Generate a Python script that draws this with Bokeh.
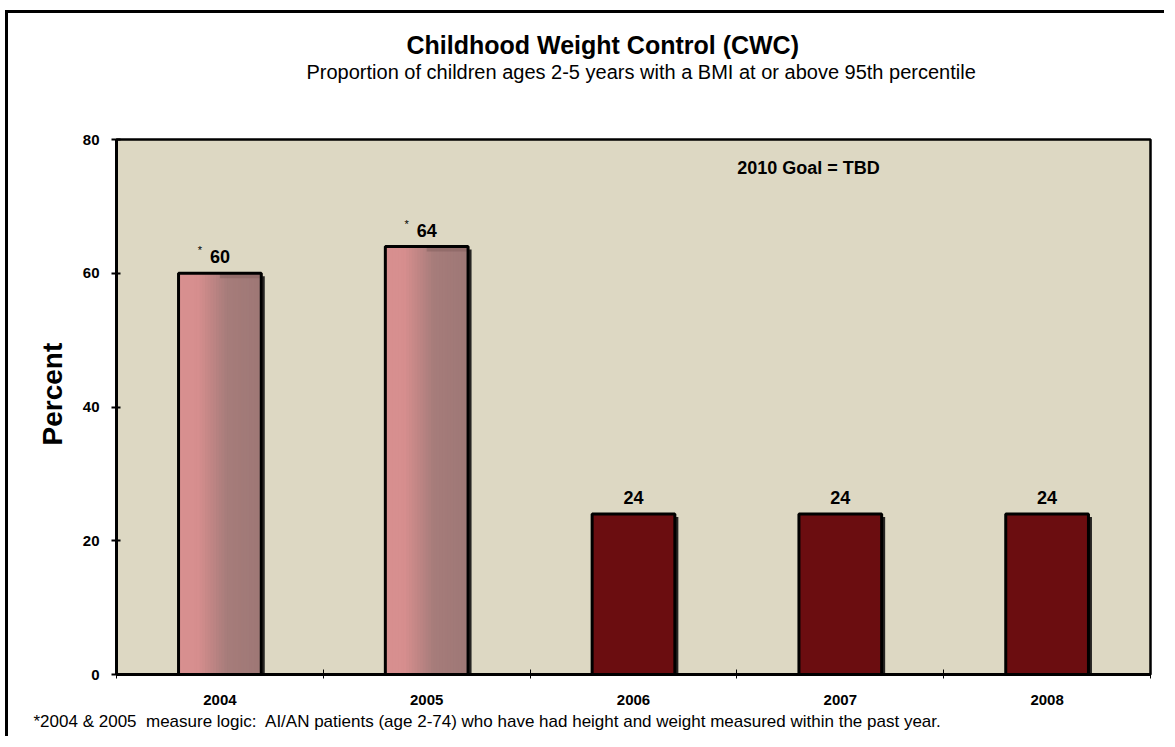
from bokeh.plotting import figure
from bokeh.models import ColumnDataSource, FixedTicker, Label, LabelSet, Range1d, Title
from bokeh.core.properties import value
from bokeh.embed import file_html
from bokeh.resources import INLINE

# ---------------- data ----------------
years = ["2004", "2005", "2006", "2007", "2008"]
percent = [60, 64, 24, 24, 24]
note_marks = ["*", "*", "", "", ""]
y_ticks = [0, 20, 40, 60, 80]
title_text = "Childhood Weight Control (CWC)"
subtitle_text = "Proportion of children ages 2-5 years with a BMI at or above 95th percentile"
goal_text = "2010 Goal = TBD"
footnote_text = ("*2004 & 2005\u00a0 measure logic:\u00a0 AI/AN patients (age 2-74) who have had "
                 "height and weight measured within the past year.")
y_label = "Percent"

# ---------------- layout helpers ----------------
FONT = "Liberation Sans"
W, H = 1159, 726
ORG_X, ORG_Y = 8, 13          # page position of canvas
FL, FT, FR, FB = 116, 139, 1150, 674   # frame edges in page px
N = len(years)
YMAX = 80
UPX = N / (FR - FL)           # data units per px (x)
UPY = YMAX / (FB - FT)        # data units per px (y)


def dx(px):
    return (px - FL) * UPX


def dy(py):
    return (FB - py) * UPY


p = figure(width=W, height=H, x_range=Range1d(0, N), y_range=Range1d(0, YMAX),
           output_backend="svg", toolbar_location=None,
           min_border_left=FL - ORG_X, min_border_top=FT - ORG_Y,
           min_border_right=ORG_X + W - FR, min_border_bottom=ORG_Y + H - FB,
           background_fill_color="#ddd8c3", border_fill_color="white")
p.styles = {"border-left": "3px solid black", "border-top": "3px solid black",
            "margin-left": "5px", "margin-top": "10px"}
p.grid.visible = False
p.outline_line_color = "black"
p.outline_line_width = 2.5

centers = [i + 0.5 for i in range(N)]
bar_w = 0.4

# shadow
shadow_src = ColumnDataSource(dict(x=[c + 3.5 * UPX for c in centers],
                                   top=[v - 3 * UPY for v in percent]))
p.vbar(x="x", top="top", width=bar_w, bottom=0, source=shadow_src,
       fill_color="#111111", fill_alpha=0.9, line_color=None)

# gradient strips for the starred (old-logic) bars
stops = [(0.0, (216, 144, 144)), (0.25, (214, 142, 142)),
         (0.6, (166, 124, 122)), (1.0, (158, 120, 118))]


def grad(t):
    for (t0, c0), (t1, c1) in zip(stops[:-1], stops[1:]):
        if t <= t1:
            f = (t - t0) / (t1 - t0) if t1 > t0 else 0
            return "#%02x%02x%02x" % tuple(int(round(a + (b - a) * f)) for a, b in zip(c0, c1))
    return "#%02x%02x%02x" % stops[-1][1]


NS = 30
sx, st, sc = [], [], []
for c, v, m in zip(centers, percent, note_marks):
    if m:
        for i in range(NS):
            t = (i + 0.5) / NS
            sx.append(c - bar_w / 2 + t * bar_w)
            st.append(v)
            sc.append(grad(t))
strip_src = ColumnDataSource(dict(x=sx, top=st, color=sc))
p.vbar(x="x", top="top", bottom=0, width=bar_w / NS * 1.8, source=strip_src,
       fill_color="color", line_color=None)

# subtle darker band at the top-right of the gradient bars
band_src = ColumnDataSource(dict(
    x=[c + bar_w * 0.25 for c, m in zip(centers, note_marks) if m],
    top=[v for v, m in zip(percent, note_marks) if m],
    bottom=[v - 5 * UPY for v, m in zip(percent, note_marks) if m]))
p.vbar(x="x", top="top", bottom="bottom", width=bar_w * 0.5, source=band_src,
       fill_color="#85605e", fill_alpha=0.55, line_color=None)

# bar bodies / outlines
bar_fill = ["#00000000" if m else "#6b0d10" for m in note_marks]
bar_src = ColumnDataSource(dict(x=centers, top=percent, fill=bar_fill,
                                lab=[str(v) for v in percent], note=note_marks))
p.vbar(x="x", top="top", bottom=0, width=bar_w, source=bar_src,
       fill_color="fill", line_color="black", line_width=3)

# value labels
p.add_layout(LabelSet(x="x", y="top", text="lab", source=bar_src, y_offset=10,
                      text_align="center", text_baseline="alphabetic",
                      text_font=value(FONT), text_font_style="bold",
                      text_font_size="18px", text_color="black"))
p.add_layout(LabelSet(x="x", y="top", text="note", source=bar_src, x_offset=-20, y_offset=29,
                      text_align="center", text_baseline="top",
                      text_font=value(FONT), text_font_size="11px", text_color="black"))

# axes
xa = p.xaxis[0]
xa.ticker = FixedTicker(ticks=centers, minor_ticks=list(range(N + 1)))
xa.major_label_overrides = {c: y for c, y in zip(centers, years)}
xa.major_tick_in = 0
xa.major_tick_out = 0
xa.minor_tick_in = 5
xa.minor_tick_out = 4
xa.minor_tick_line_color = "black"
xa.minor_tick_line_width = 1
xa.axis_line_width = 3
xa.axis_line_color = "black"
xa.major_label_standoff = 16
xa.major_label_text_font = FONT
xa.major_label_text_font_style = "bold"
xa.major_label_text_font_size = "15px"
xa.major_label_text_color = "black"

ya = p.yaxis[0]
ya.ticker = FixedTicker(ticks=y_ticks, minor_ticks=[])
ya.major_tick_in = 4
ya.major_tick_out = 5
ya.major_tick_line_width = 2
ya.major_tick_line_color = "black"
ya.axis_line_width = 3
ya.axis_line_color = "black"
ya.major_label_standoff = 12
ya.major_label_text_font = FONT
ya.major_label_text_font_style = "bold"
ya.major_label_text_font_size = "15px"
ya.major_label_text_color = "black"

# y axis title as a side title so it can sit slightly above the frame centre
p.add_layout(Title(text=y_label, align="left", offset=229, standoff=24,
                   text_font=FONT, text_font_style="bold", text_font_size="28px",
                   text_color="black"), "left")

# titles (outside the frame); first added sits nearest the frame
p.add_layout(Title(text=" ", align="left", standoff=54,
                   text_font=FONT, text_font_size="1px"), "above")
p.add_layout(Title(text=subtitle_text, align="left", offset=190, standoff=0,
                   text_font=FONT, text_font_style="normal", text_font_size="20px",
                   text_color="black"), "above")
p.add_layout(Title(text=title_text, align="left", offset=290, standoff=0,
                   text_font=FONT, text_font_style="bold", text_font_size="25px",
                   text_color="black"), "above")
p.add_layout(Title(text=footnote_text, align="left", offset=-83, standoff=4,
                   text_font=FONT, text_font_style="normal", text_font_size="17px",
                   text_color="black"), "below")

# goal text inside the plot area
p.add_layout(Label(x=dx(808), y=dy(167), text=goal_text, text_align="center",
                   text_baseline="middle", text_font=FONT, text_font_style="bold",
                   text_font_size="18px", text_color="black"))

open("out.html", "w").write(file_html(p, INLINE))
